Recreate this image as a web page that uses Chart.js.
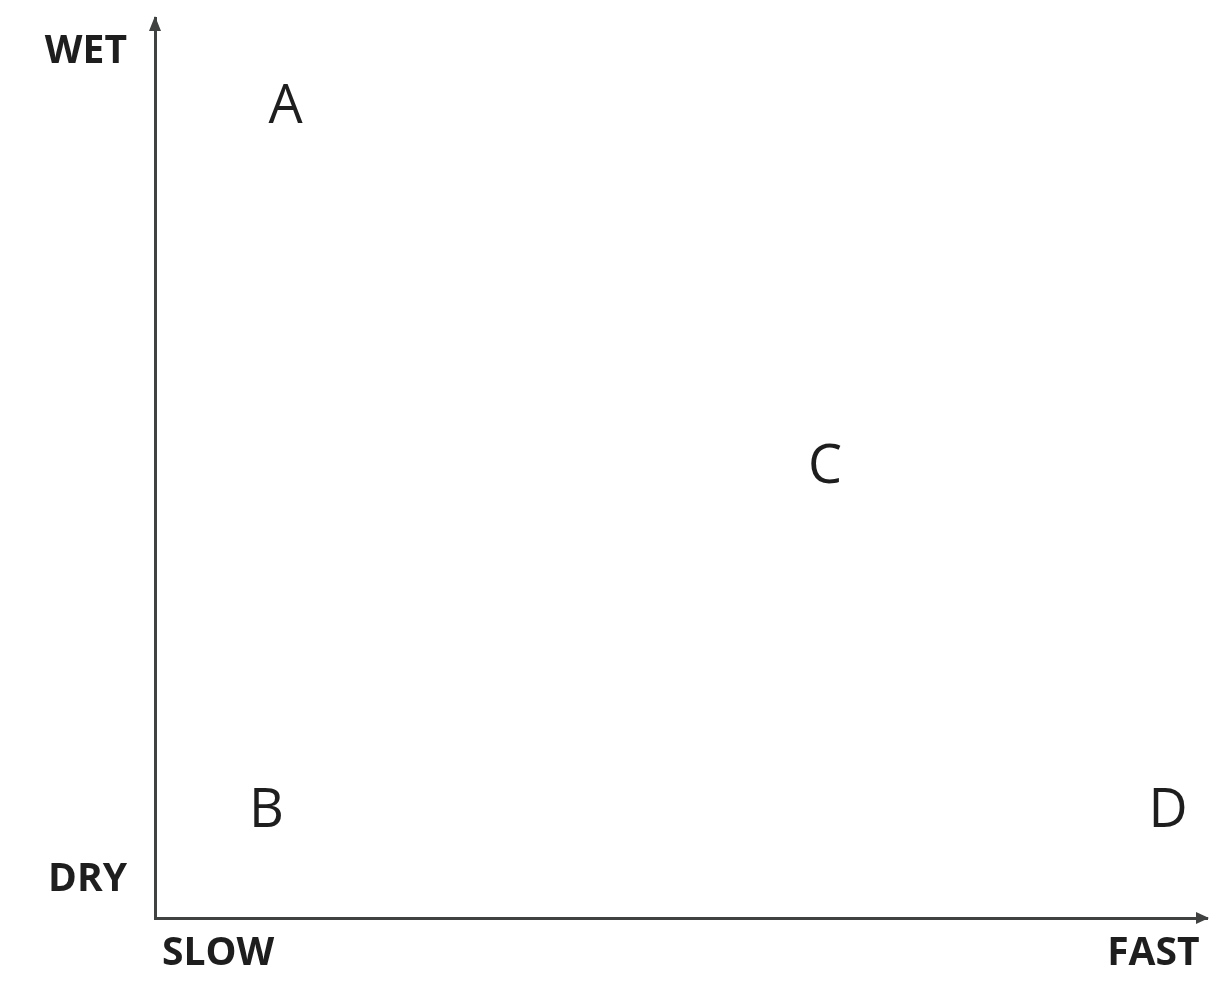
<!DOCTYPE html>
<html>
<head>
<meta charset="utf-8">
<script src="https://cdn.jsdelivr.net/npm/chart.js@4.4.1/dist/chart.umd.min.js"></script>
<style>
  html, body { margin: 0; padding: 0; background: #fff; }
  #wrap { width: 1209px; height: 982px; position: relative; }
</style>
</head>
<body>
<div id="wrap"><canvas id="quadChart"></canvas></div>
<script>
// points on a 0-100 speed / wetness grid
const pointLabels = ["A", "B", "C", "D"];
const speedValues = [12.4, 10.6, 63.7, 96.3];
const wetValues = [90, 11.8, 50, 11.8];

// axis end labels
const xTickValues = [6, 94.9];
const xTickLabels = ["SLOW", "FAST"];
const yTickValues = [4.2, 96.2];
const yTickLabels = ["DRY", "WET"];

const axisColor = "#3f4240";
const textColor = "#1e1e1e";

const letterPlugin = {
  id: "letters",
  afterDatasetsDraw(chart) {
    const ctx = chart.ctx;
    const meta = chart.getDatasetMeta(0);
    ctx.save();
    ctx.font = "54px 'Open Sans', 'Noto Sans', sans-serif";
    ctx.fillStyle = textColor;
    ctx.textAlign = "center";
    ctx.textBaseline = "middle";
    meta.data.forEach((el, i) => {
      ctx.fillText(pointLabels[i], el.x, el.y);
    });
    ctx.restore();
  }
};

const arrowPlugin = {
  id: "arrows",
  afterDraw(chart) {
    const { left, top, right, bottom } = chart.chartArea;
    const ctx = chart.ctx;
    ctx.save();
    ctx.fillStyle = axisColor;
    // up arrow
    ctx.beginPath();
    ctx.moveTo(left, top - 2);
    ctx.lineTo(left - 6, top + 13);
    ctx.lineTo(left + 6, top + 13);
    ctx.closePath();
    ctx.fill();
    // right arrow
    ctx.beginPath();
    ctx.moveTo(right + 2, bottom);
    ctx.lineTo(right - 11, bottom - 6);
    ctx.lineTo(right - 11, bottom + 6);
    ctx.closePath();
    ctx.fill();
    ctx.restore();
  }
};

new Chart(document.getElementById("quadChart"), {
  type: "scatter",
  data: {
    labels: pointLabels,
    datasets: [{
      label: "items",
      data: speedValues.map((x, i) => ({ x, y: wetValues[i] })),
      pointRadius: 0,
      pointHoverRadius: 0
    }]
  },
  options: {
    responsive: true,
    maintainAspectRatio: false,
    animation: false,
    layout: {
      padding: { top: 18, right: 2, left: 0, bottom: 0 }
    },
    plugins: {
      legend: { display: false },
      tooltip: { enabled: false }
    },
    scales: {
      x: {
        type: "linear",
        min: 0,
        max: 100,
        afterFit(scale) {
          scale.height = 64;
          scale.paddingLeft = 0;
          scale.paddingRight = 0;
        },
        afterBuildTicks(scale) {
          scale.ticks = xTickValues.map(v => ({ value: v }));
        },
        grid: { display: false, drawTicks: false },
        border: { display: true, color: axisColor, width: 3 },
        ticks: {
          autoSkip: false,
          maxRotation: 0,
          padding: 12,
          color: textColor,
          font: { family: "'Open Sans', 'Noto Sans', sans-serif", size: 39, weight: "bold" },
          callback: (v, i) => xTickLabels[i]
        }
      },
      y: {
        type: "linear",
        min: 0,
        max: 100,
        afterFit(scale) {
          scale.width = 155;
          scale.paddingTop = 0;
          scale.paddingBottom = 0;
        },
        afterBuildTicks(scale) {
          scale.ticks = yTickValues.map(v => ({ value: v }));
        },
        grid: { display: false, drawTicks: false },
        border: { display: true, color: axisColor, width: 3 },
        ticks: {
          autoSkip: false,
          padding: 28,
          color: textColor,
          font: { family: "'Open Sans', 'Noto Sans', sans-serif", size: 39, weight: "bold" },
          callback: (v, i) => yTickLabels[i]
        }
      }
    }
  },
  plugins: [letterPlugin, arrowPlugin]
});
</script>
</body>
</html>
